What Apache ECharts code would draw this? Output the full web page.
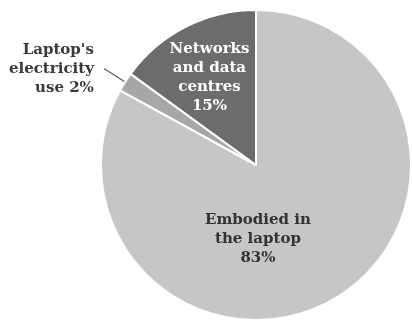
<!DOCTYPE html>
<html>
<head>
<meta charset="utf-8">
<script src="https://cdn.jsdelivr.net/npm/echarts@6/dist/echarts.min.js"></script>
<style>
  html, body { margin: 0; padding: 0; background: #fff; }
  #chart { width: 412px; height: 324px; }
</style>
</head>
<body>
<div id="chart"></div>
<script>
// Footprint shares of a laptop, in percent
const categories = ['Embodied in\nthe laptop', "Laptop's\nelectricity\nuse", 'Networks\nand data\ncentres'];
const shares = [83, 2, 15];

const sliceColors = ['#c6c6c6', '#a7a7a7', '#6c6c6c'];
const labelFont = 'DejaVu Serif';

// Per-slice label placement
const labelStyles = [
  { position: 'inside', color: '#333', offset: [-39, 5], align: 'center' },
  { position: 'outside', color: '#3a3a3a', align: 'right', distanceToLabelLine: 10 },
  { position: 'inside', color: '#fff', offset: [-10, -16], align: 'center' }
];

const chart = echarts.init(document.getElementById('chart'));
chart.setOption({
  animation: false,
  series: [{
    type: 'pie',
    center: [256, 165],
    radius: [0, 155],
    startAngle: 90,
    clockwise: true,
    avoidLabelOverlap: false,
    itemStyle: { borderColor: '#fff', borderWidth: 2 },
    labelLine: { show: false },
    data: categories.map((name, i) => ({
      name: name,
      value: shares[i],
      itemStyle: { color: sliceColors[i] },
      label: Object.assign({
        show: true,
        fontFamily: labelFont,
        fontSize: 15,
        fontWeight: 'bold',
        lineHeight: 19,
        formatter: p => i === 1 ? p.name + ' ' + p.value + '%' : p.name + '\n' + p.value + '%'
      }, labelStyles[i]),
      labelLine: i === 1 ? {
        show: true,
        length: 24,
        length2: 1,
        lineStyle: { color: '#555', width: 1.2 }
      } : { show: false }
    }))
  }]
});
</script>
</body>
</html>
